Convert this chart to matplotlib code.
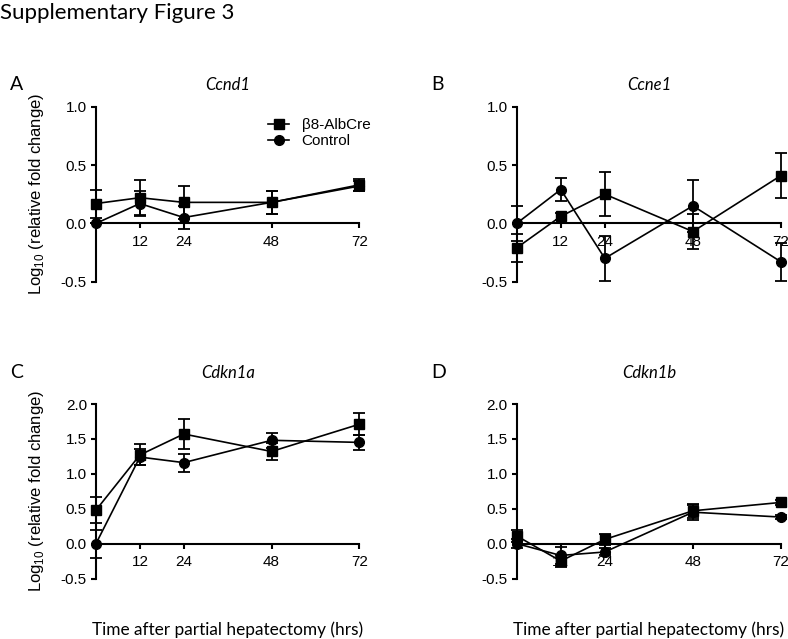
import numpy as np
import matplotlib
matplotlib.use("Agg")
import matplotlib.pyplot as plt
from matplotlib.lines import Line2D

plt.rcParams['font.family'] = ['Liberation Sans', 'DejaVu Sans']
plt.rcParams['mathtext.fontset'] = 'custom'
plt.rcParams['mathtext.rm'] = 'Liberation Sans'
plt.rcParams['axes.unicode_minus'] = False

# hours after partial hepatectomy
times = [0, 12, 24, 48, 72]
xtick_vals = [12, 24, 48, 72]

genes = ["Ccnd1", "Ccne1", "Cdkn1a", "Cdkn1b"]
letters = ["A", "B", "C", "D"]

# beta8-AlbCre (squares) mean / sem
ccnd1_ko = [0.17, 0.22, 0.18, 0.18, 0.33]
ccnd1_ko_err = [0.12, 0.15, 0.14, 0.10, 0.05]
ccne1_ko = [-0.21, 0.06, 0.25, -0.07, 0.41]
ccne1_ko_err = [0.12, 0.03, 0.19, 0.15, 0.19]
cdkn1a_ko = [0.48, 1.27, 1.57, 1.32, 1.71]
cdkn1a_ko_err = [0.19, 0.15, 0.21, 0.12, 0.155]
cdkn1b_ko = [0.11, -0.25, 0.06, 0.47, 0.59]
cdkn1b_ko_err = [0.08, 0.09, 0.08, 0.10, 0.03]

# Control (circles)
ccnd1_ctl = [0.0, 0.17, 0.05, 0.18, 0.32]
ccnd1_ctl_err = [0.0, 0.11, 0.10, 0.10, 0.04]
ccne1_ctl = [0.0, 0.29, -0.30, 0.15, -0.33]
ccne1_ctl_err = [0.15, 0.10, 0.19, 0.22, 0.16]
cdkn1a_ctl = [0.0, 1.24, 1.16, 1.48, 1.45]
cdkn1a_ctl_err = [0.20, 0.12, 0.13, 0.11, 0.11]
cdkn1b_ctl = [0.0, -0.17, -0.12, 0.45, 0.38]
cdkn1b_ctl_err = [0.07, 0.12, 0.05, 0.11, 0.03]

ko_sets = [(ccnd1_ko, ccnd1_ko_err), (ccne1_ko, ccne1_ko_err),
           (cdkn1a_ko, cdkn1a_ko_err), (cdkn1b_ko, cdkn1b_ko_err)]
ctl_sets = [(ccnd1_ctl, ccnd1_ctl_err), (ccne1_ctl, ccne1_ctl_err),
            (cdkn1a_ctl, cdkn1a_ctl_err), (cdkn1b_ctl, cdkn1b_ctl_err)]
ylims = [(-0.5, 1.0), (-0.5, 1.0), (-0.5, 2.0), (-0.5, 2.0)]

W, H = 788, 639
fig = plt.figure(figsize=(W / 100, H / 100), dpi=100)

# axes boxes in pixels: left, right, top, bottom
boxes = [(96, 359.3, 106.7, 281.7), (516.7, 781, 106.7, 281.7),
         (96, 359.3, 404, 578.5), (516.7, 781, 404, 578.5)]

side_font = ['Lato', 'DejaVu Sans']
axes = []
for i, (l, r, t, b) in enumerate(boxes):
    ax = fig.add_axes([l / W, 1 - b / H, (r - l) / W, (b - t) / H])
    axes.append(ax)
    ko, ko_err = ko_sets[i]
    ctl, ctl_err = ctl_sets[i]

    ax.errorbar(times, ko, yerr=ko_err, fmt='none', ecolor='black',
                elinewidth=1.3, capsize=4.5, capthick=1.3, clip_on=False, zorder=3)
    ax.errorbar(times, ctl, yerr=ctl_err, fmt='none', ecolor='black',
                elinewidth=1.3, capsize=4.5, capthick=1.3, clip_on=False, zorder=3)
    ax.plot(times, ko, color='black', marker='s', markersize=7, lw=1.2,
            clip_on=False, zorder=4)
    ax.plot(times, ctl, color='black', marker='o', markersize=7, lw=1.2,
            clip_on=False, zorder=4)

    ax.set_xlim(0, 72)
    ax.set_ylim(*ylims[i])
    ax.set_xticks(xtick_vals)
    ax.set_yticks(np.arange(ylims[i][0], ylims[i][1] + 0.01, 0.5))
    ax.yaxis.set_major_formatter(plt.FormatStrFormatter('%.1f'))
    ax.spines['top'].set_visible(False)
    ax.spines['right'].set_visible(False)
    ax.spines['bottom'].set_position(('data', 0))
    for s in ['left', 'bottom']:
        ax.spines[s].set_linewidth(1.5)
    ax.tick_params(axis='both', direction='out', width=1.5, length=3.5,
                   labelsize=11)
    ax.tick_params(axis='x', pad=5)
    ax.tick_params(axis='y', pad=3)
    ax.patch.set_visible(False)

    cx = (l + r) / 2
    ty = 90 if i < 2 else 378
    fig.text(cx / W, 1 - ty / H, genes[i], ha='center', va='baseline',
             fontsize=12, style='italic', family=side_font)
    lx = 10 if i % 2 == 0 else 431
    fig.text(lx / W, 1 - ty / H, letters[i], ha='left', va='baseline',
             fontsize=14, family=side_font)
    if i >= 2:
        fig.text(cx / W, 1 - 635 / H, "Time after partial hepatectomy (hrs)",
                 ha='center', va='baseline', fontsize=12.4, family=side_font)
    if i % 2 == 0:
        ax.set_ylabel(r'Log$_{10}$ (relative fold change)', fontsize=12)
        ax.yaxis.set_label_coords(-0.19, 0.5)

handles = [Line2D([], [], color='black', marker='s', markersize=7, lw=1.2),
           Line2D([], [], color='black', marker='o', markersize=7, lw=1.2)]
axes[0].legend(handles, ["\u03b28-AlbCre", "Control"], loc='upper left',
               bbox_to_anchor=(268 / W, 1 - 118 / H), bbox_transform=fig.transFigure,
               frameon=False, fontsize=11, handlelength=1.4, handletextpad=0.8,
               labelspacing=0.15, borderpad=0, borderaxespad=0)

fig.text(0, 1 - 19 / H, "Supplementary Figure 3", ha='left', va='baseline',
         fontsize=16, family=side_font)

fig.savefig("out.png", dpi=100)
